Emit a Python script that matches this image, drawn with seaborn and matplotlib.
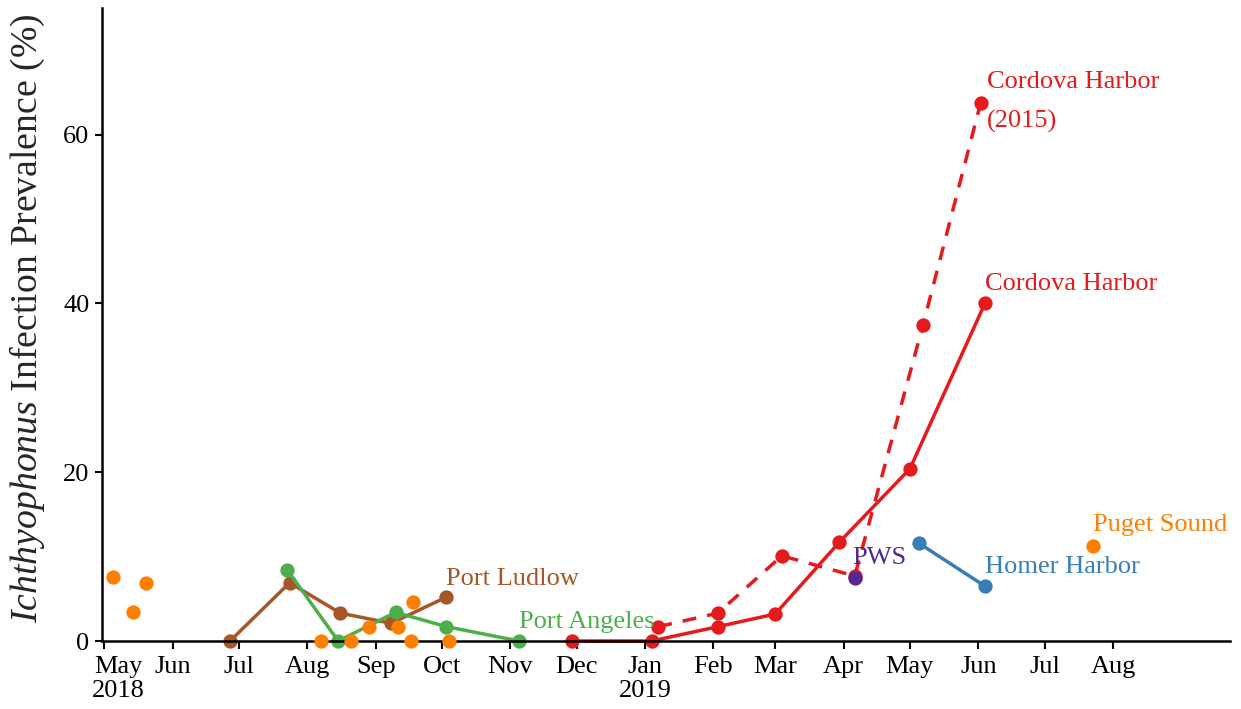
import numpy as np
import pandas as pd
import matplotlib
matplotlib.use("Agg")
import matplotlib.pyplot as plt
import matplotlib.transforms as mtransforms
import seaborn as sns

# ---- data: sampling dates and infection prevalence (%) per site ----
puget_dates = ["2018-05-05", "2018-05-14", "2018-05-20", "2018-08-07", "2018-08-21",
               "2018-08-29", "2018-09-11", "2018-09-17", "2018-09-18", "2018-10-04",
               "2019-07-23"]
puget_vals = [7.6, 3.4, 6.9, 0.0, 0.0, 1.7, 1.7, 0.0, 4.6, 0.0, 11.2]

angeles_dates = ["2018-07-23", "2018-08-15", "2018-09-10", "2018-10-03", "2018-11-05"]
angeles_vals = [8.4, 0.0, 3.4, 1.7, 0.0]

ludlow_dates = ["2018-06-27", "2018-07-24", "2018-08-16", "2018-09-08", "2018-10-03"]
ludlow_vals = [0.0, 6.9, 3.3, 2.1, 5.2]

cordova_dates = ["2018-11-29", "2019-01-04", "2019-02-03", "2019-03-01", "2019-03-30",
                 "2019-05-01", "2019-06-04"]
cordova_vals = [0.0, 0.0, 1.7, 3.2, 11.7, 20.4, 40.0]

cordova15_dates = ["2019-01-07", "2019-02-03", "2019-03-04", "2019-04-06", "2019-05-07",
                   "2019-06-02"]
cordova15_vals = [1.7, 3.3, 10.1, 7.7, 37.5, 63.7]

homer_dates = ["2019-05-05", "2019-06-04"]
homer_vals = [11.6, 6.5]

pws_dates = ["2019-04-06"]
pws_vals = [7.5]

# ---- colours ----
RED = "#E41A1C"
BLUE = "#377EB8"
GREEN = "#4DAF4A"
BROWN = "#A65628"
ORANGE = "#FF7F00"
PURPLE = "#54278F"


def frame(dates, vals):
    return pd.DataFrame({"date": pd.to_datetime(dates), "prev": vals})


sns.set_theme(style="ticks")
plt.rcParams["font.family"] = ["Liberation Serif", "DejaVu Serif"]
plt.rcParams["mathtext.fontset"] = "custom"
plt.rcParams["mathtext.rm"] = "Liberation Serif"
plt.rcParams["mathtext.it"] = "Liberation Serif:italic"
plt.rcParams["mathtext.bf"] = "Liberation Serif:bold"

fig = plt.figure(figsize=(12.41, 7.09), dpi=100)
ax = fig.add_axes([0.0822, 0.0959, 0.9089, 0.8928])

LW = 2.5
MS = 10.3

line_kw = dict(x="date", y="prev", ax=ax, linewidth=LW, marker="o",
               markersize=MS, markeredgewidth=0, clip_on=False, legend=False,
               estimator=None, sort=False)

sns.lineplot(data=frame(ludlow_dates, ludlow_vals), color=BROWN, **line_kw)
sns.lineplot(data=frame(angeles_dates, angeles_vals), color=GREEN, **line_kw)
sns.lineplot(data=frame(cordova15_dates, cordova15_vals), color=RED,
             linestyle=(0, (4, 3.2)), **line_kw)
sns.lineplot(data=frame(cordova_dates, cordova_vals), color=RED, **line_kw)
sns.lineplot(data=frame(homer_dates, homer_vals), color=BLUE, **line_kw)

sns.scatterplot(data=frame(puget_dates, puget_vals), x="date", y="prev", ax=ax,
                color=ORANGE, s=MS ** 2, linewidth=0, clip_on=False, legend=False,
                zorder=3)
sns.scatterplot(data=frame(pws_dates, pws_vals), x="date", y="prev", ax=ax,
                color=PURPLE, s=MS ** 2, linewidth=0, clip_on=False, legend=False,
                zorder=4)

# ---- site labels ----
FS = 19
d = pd.to_datetime
ax.text(d("2019-06-05"), 63.9, "Cordova Harbor\n(2015)", color=RED, fontsize=FS,
        ha="left", va="center", linespacing=1.95)
ax.text(d("2019-06-04"), 42.3, "Cordova Harbor", color=RED, fontsize=FS,
        ha="left", va="center")
ax.text(d("2019-07-23"), 13.7, "Puget Sound", color=ORANGE, fontsize=FS,
        ha="left", va="center")
ax.text(d("2019-06-04"), 8.8, "Homer Harbor", color=BLUE, fontsize=FS,
        ha="left", va="center")
ax.text(d("2019-04-05"), 9.8, "PWS", color=PURPLE, fontsize=FS,
        ha="left", va="center")
ax.text(d("2018-10-03"), 7.4, "Port Ludlow", color=BROWN, fontsize=FS,
        ha="left", va="center")
ax.text(d("2018-11-05"), 2.3, "Port Angeles", color=GREEN, fontsize=FS,
        ha="left", va="center")

# ---- axes ----
ax.set_ylim(0, 75)
ax.set_xlim(d("2018-04-30"), d("2019-09-23"))
ax.set_yticks([0, 20, 40, 60])

month_ticks = pd.date_range("2018-05-01", "2019-08-01", freq="MS")
labels = []
for t in month_ticks:
    lab = t.strftime("%b")
    if t == month_ticks[0] or t.month == 1:
        lab += "\n" + t.strftime("%Y")
    labels.append(lab)
ax.set_xticks(month_ticks)
ax.set_xticklabels(labels)

ax.tick_params(axis="both", labelsize=FS, colors="black", width=1.5,
               length=5, pad=4)
ax.tick_params(axis="x", length=6, pad=5)
for lab in ax.get_xticklabels():
    lab.set_linespacing(1.1)

# nudge first month label clear of the y-axis
first = ax.get_xticklabels()[0]
first.set_transform(first.get_transform() +
                    mtransforms.ScaledTranslation(14 / 100, 0, fig.dpi_scale_trans))

sns.despine(ax=ax)
for sp in ("left", "bottom"):
    ax.spines[sp].set_linewidth(1.8)
    ax.spines[sp].set_color("black")

ax.set_xlabel("")
ax.set_ylabel(r"$\it{Ichthyophonus}$ Infection Prevalence (%)", fontsize=27.2)
ax.yaxis.set_label_coords(-0.049, 0.51)

fig.savefig("out.png", dpi=100)
